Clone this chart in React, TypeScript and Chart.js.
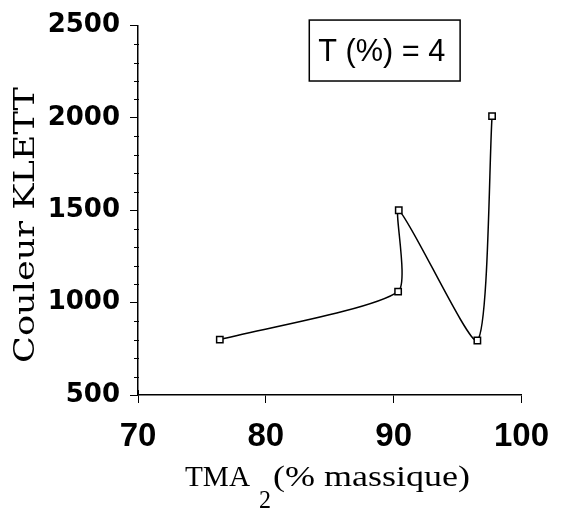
import { useEffect, useRef } from "react";
import { Chart, registerables } from "chart.js";
Chart.register(...registerables);

const tmaValues = [76.4, 90.35, 90.4, 96.55, 97.7];
const kolorValues = [800, 1060, 1500, 795, 2010];
const xTicks = [70, 80, 90, 100];
const yTicks = [500, 1000, 1500, 2000, 2500];
const yMinorStep = 100;
const yTitle = "Couleur KLETT";
const xTitleMain = "TMA";
const xTitleSub = "2";
const xTitleRest = "(% massique)";
const annotationText = "T (%) = 4";
const annotationBox = [83.4, 95.2, 2200, 2530];

function fitText(ctx: CanvasRenderingContext2D, text: string, x: number, y: number, width: number) {
  const m = ctx.measureText(text).width;
  ctx.save();
  ctx.translate(x, y);
  ctx.scale(width / m, 1);
  ctx.fillText(text, 0, 0);
  ctx.restore();
}

const decorPlugin = {
  id: "decor",
  afterDraw(chart: any) {
    const ctx: CanvasRenderingContext2D = chart.ctx;
    const xs = chart.scales.x;
    const ys = chart.scales.y;
    const left = chart.chartArea.left;
    const bottom = chart.chartArea.bottom;
    ctx.save();
    ctx.strokeStyle = "#000";
    ctx.fillStyle = "#000";
    // minor ticks
    ctx.lineWidth = 1;
    for (let v = yTicks[0]; v <= yTicks[yTicks.length - 1]; v += yMinorStep) {
      if (v % 500 === 0) continue;
      const py = Math.round(ys.getPixelForValue(v)) + 0.5;
      ctx.beginPath();
      ctx.moveTo(left - 4, py);
      ctx.lineTo(left + 1, py);
      ctx.stroke();
    }
    // small upward tick at x origin
    const px0 = Math.round(xs.getPixelForValue(xTicks[0])) + 0.5;
    ctx.beginPath();
    ctx.moveTo(px0, bottom - 5);
    ctx.lineTo(px0, bottom);
    ctx.stroke();
    // annotation box
    const bx1 = xs.getPixelForValue(annotationBox[0]);
    const bx2 = xs.getPixelForValue(annotationBox[1]);
    const by1 = ys.getPixelForValue(annotationBox[3]);
    const by2 = ys.getPixelForValue(annotationBox[2]);
    ctx.lineWidth = 1.5;
    ctx.strokeRect(bx1, by1, bx2 - bx1, by2 - by1);
    ctx.font = "32px 'Liberation Sans'";
    ctx.textBaseline = "alphabetic";
    ctx.textAlign = "left";
    fitText(ctx, annotationText, bx1 + 9, by1 + 41, 127);
    // y title
    ctx.save();
    ctx.translate(34, 363);
    ctx.rotate(-Math.PI / 2);
    ctx.font = "28px 'DejaVu Serif'";
    fitText(ctx, yTitle, 0, 0, 276);
    ctx.restore();
    // x title
    ctx.font = "30px 'Liberation Serif'";
    fitText(ctx, xTitleMain, 185, 486, 65);
    fitText(ctx, xTitleRest, 273, 486, 197);
    ctx.font = "25px 'Liberation Serif'";
    fitText(ctx, xTitleSub, 259, 508, 12);
    ctx.restore();
  },
};

export default function App() {
  const ref = useRef<HTMLCanvasElement>(null);
  useEffect(() => {
    document.body.style.margin = "0";
    const chart = new Chart(ref.current!, {
      type: "line",
      data: {
        datasets: [
          {
            data: tmaValues.map((x, i) => ({ x, y: kolorValues[i] })),
            borderColor: "#000",
            borderWidth: 1.5,
            tension: 0.2,
            pointStyle: "rect",
            pointRadius: 4.5,
            pointBackgroundColor: "#fff",
            pointBorderColor: "#000",
            pointBorderWidth: 1.5,
          },
        ],
      },
      options: {
        responsive: false,
        animation: false,
        layout: { padding: { top: 25, right: 35, left: 0, bottom: 0 } },
        plugins: { legend: { display: false }, tooltip: { enabled: false } },
        scales: {
          x: {
            type: "linear",
            min: xTicks[0],
            max: xTicks[xTicks.length - 1],
            afterBuildTicks: (s: any) => {
              s.ticks = xTicks.map((v) => ({ value: v }));
            },
            afterFit: (s: any) => {
              s.height = 117;
            },
            grid: { drawOnChartArea: false, drawTicks: true, tickLength: 8, color: "#000", lineWidth: 1 },
            border: { display: true, color: "#000", width: 1.5 },
            ticks: {
              color: "#000",
              padding: 14,
              callback: (v: any) => String(v),
              font: { family: "'Liberation Sans'", weight: "bold", size: 33 },
            },
          },
          y: {
            type: "linear",
            min: yTicks[0],
            max: yTicks[yTicks.length - 1],
            afterBuildTicks: (s: any) => {
              s.ticks = yTicks.map((v) => ({ value: v }));
            },
            afterFit: (s: any) => {
              s.width = 138;
            },
            grid: { drawOnChartArea: false, drawTicks: true, tickLength: 8, color: "#000", lineWidth: 1 },
            border: { display: true, color: "#000", width: 1.5 },
            ticks: {
              color: "#000",
              padding: 10,
              callback: (v: any) => String(v),
              font: { family: "'DejaVu Sans'", weight: "bold", size: 26 },
            },
          },
        },
      },
      plugins: [decorPlugin],
    } as any);
    return () => chart.destroy();
  }, []);
  return (
    <div style={{ position: "absolute", left: 0, top: 0, width: 563, height: 512 }}>
      <canvas ref={ref} width={563} height={512} style={{ width: 563, height: 512 }} />
    </div>
  );
}
